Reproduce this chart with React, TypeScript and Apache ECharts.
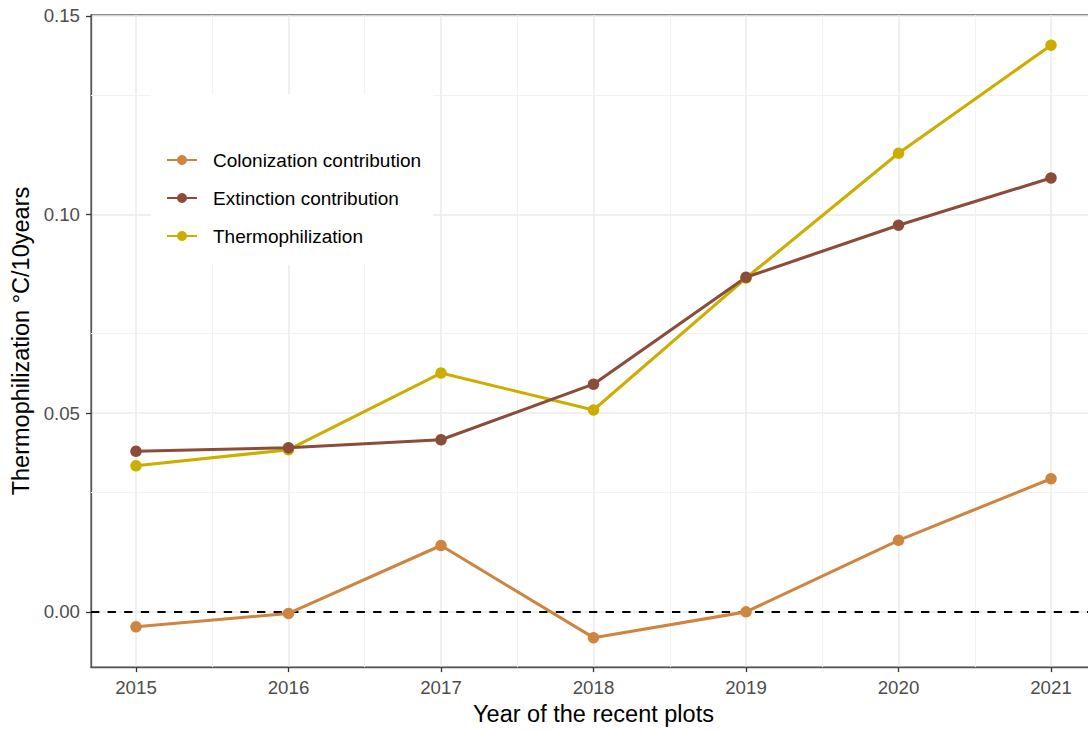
import React, { useEffect, useRef } from "react";
import * as echarts from "echarts";

const years = [2015, 2016, 2017, 2018, 2019, 2020, 2021];
const colonization = [-0.00375, -0.0004, 0.0167, -0.0065, 0.0, 0.018, 0.0335];
const extinction = [0.0404, 0.0413, 0.0433, 0.0573, 0.0842, 0.0973, 0.1092];
const thermophilization = [0.03675, 0.0408, 0.0601, 0.0508, 0.084, 0.1154, 0.1426];

const seriesNames = ["Colonization contribution", "Extinction contribution", "Thermophilization"];
const xTicks = [2015, 2016, 2017, 2018, 2019, 2020, 2021];
const xMinor = [2015.5, 2016.5, 2017.5, 2018.5, 2019.5, 2020.5];
const yTicks = [0, 0.05, 0.1, 0.15];
const yMinor = [0.025, 0.075, 0.125];
const zeroLine = 0;

const FONT = "Liberation Sans, Arial, sans-serif";
const W = 1096;
const H = 731;

export default function App() {
  const ref = useRef<HTMLDivElement>(null);
  useEffect(() => {
    if (!ref.current) return;
    const chart = echarts.init(ref.current, undefined, { renderer: "svg", width: W, height: H });
    const pair = (arr: number[]) => years.map((y, i) => [y, arr[i]]);
    const lineSeries = (name: string, data: number[], color: string) => ({
      name,
      type: "line",
      data: pair(data),
      symbol: "circle",
      symbolSize: 11.5,
      showSymbol: true,
      z: 3,
      itemStyle: { color },
      lineStyle: { color, width: 3.1 },
      emphasis: { disabled: true },
    });
    chart.setOption({
      animation: false,
      backgroundColor: "#ffffff",
      grid: {
        left: 91,
        right: 0,
        top: 15,
        bottom: 60,
        show: true,
        borderColor: "#666666",
        borderWidth: 1.3,
        backgroundColor: "transparent",
      },
      xAxis: {
        type: "value",
        min: 2014.705,
        max: 2021.295,
        name: "Year of the recent plots",
        nameLocation: "middle",
        nameGap: 34,
        nameTextStyle: { fontSize: 23.5, color: "#000", fontFamily: FONT },
        axisLine: { show: true, onZero: false, lineStyle: { color: "#555555", width: 1.3 } },
        axisTick: { show: true, length: 5, customValues: xTicks, lineStyle: { color: "#333", width: 1.3 } },
        axisLabel: {
          customValues: xTicks,
          fontSize: 18.7,
          color: "#4d4d4d",
          fontFamily: FONT,
          margin: 11,
          formatter: (v: number) => String(Math.round(v)),
        },
        splitLine: { show: true, lineStyle: { color: "#ebebeb", width: 1.5 } },
      },
      yAxis: {
        type: "value",
        min: -0.0139,
        max: 0.1502,
        name: "Thermophilization °C/10years",
        nameLocation: "middle",
        nameGap: 56,
        nameTextStyle: { fontSize: 23.5, color: "#000", fontFamily: FONT },
        axisLine: { show: true, onZero: false, lineStyle: { color: "#555555", width: 1.3 } },
        axisTick: { show: true, length: 5, customValues: yTicks, lineStyle: { color: "#333", width: 1.3 } },
        axisLabel: {
          customValues: yTicks,
          fontSize: 18.7,
          color: "#4d4d4d",
          fontFamily: FONT,
          margin: 11,
          formatter: (v: number) => v.toFixed(2),
        },
        splitLine: { show: true, lineStyle: { color: "#ebebeb", width: 1.5 } },
      },
      legend: {
        data: seriesNames,
        orient: "vertical",
        left: 151,
        top: 94,
        padding: [55, 12, 18, 15],
        backgroundColor: "#ffffff",
        itemWidth: 30,
        itemHeight: 12.5,
        itemGap: 16,
        selectedMode: false,
        textStyle: { fontSize: 19, color: "#000", fontFamily: FONT, lineHeight: 22, padding: [0, 0, 0, 11] },
      },
      series: [
        {
          name: "grid-helper",
          type: "line",
          data: [],
          z: 1,
          silent: true,
          markLine: {
            silent: true,
            z: 1,
            symbol: "none",
            label: { show: false },
            emphasis: { disabled: true },
            data: [
              ...xMinor.map((v) => ({ xAxis: v, lineStyle: { color: "#f2f2f2", width: 1, type: "solid" } })),
              ...yMinor.map((v) => ({ yAxis: v, lineStyle: { color: "#f2f2f2", width: 1, type: "solid" } })),
              { yAxis: zeroLine, lineStyle: { color: "#000", width: 2, type: [8.3, 8.3] } },
            ],
          },
        },
        lineSeries(seriesNames[2], thermophilization, "#CDAD00"),
        lineSeries(seriesNames[0], colonization, "#CD853F"),
        lineSeries(seriesNames[1], extinction, "#8B4C39"),
      ],
    });
    return () => chart.dispose();
  }, []);
  return (
    <div style={{ position: "fixed", left: 0, top: 0, width: 1088, height: 731, overflow: "hidden" }}>
      <div ref={ref} style={{ width: W, height: H }} />
    </div>
  );
}
